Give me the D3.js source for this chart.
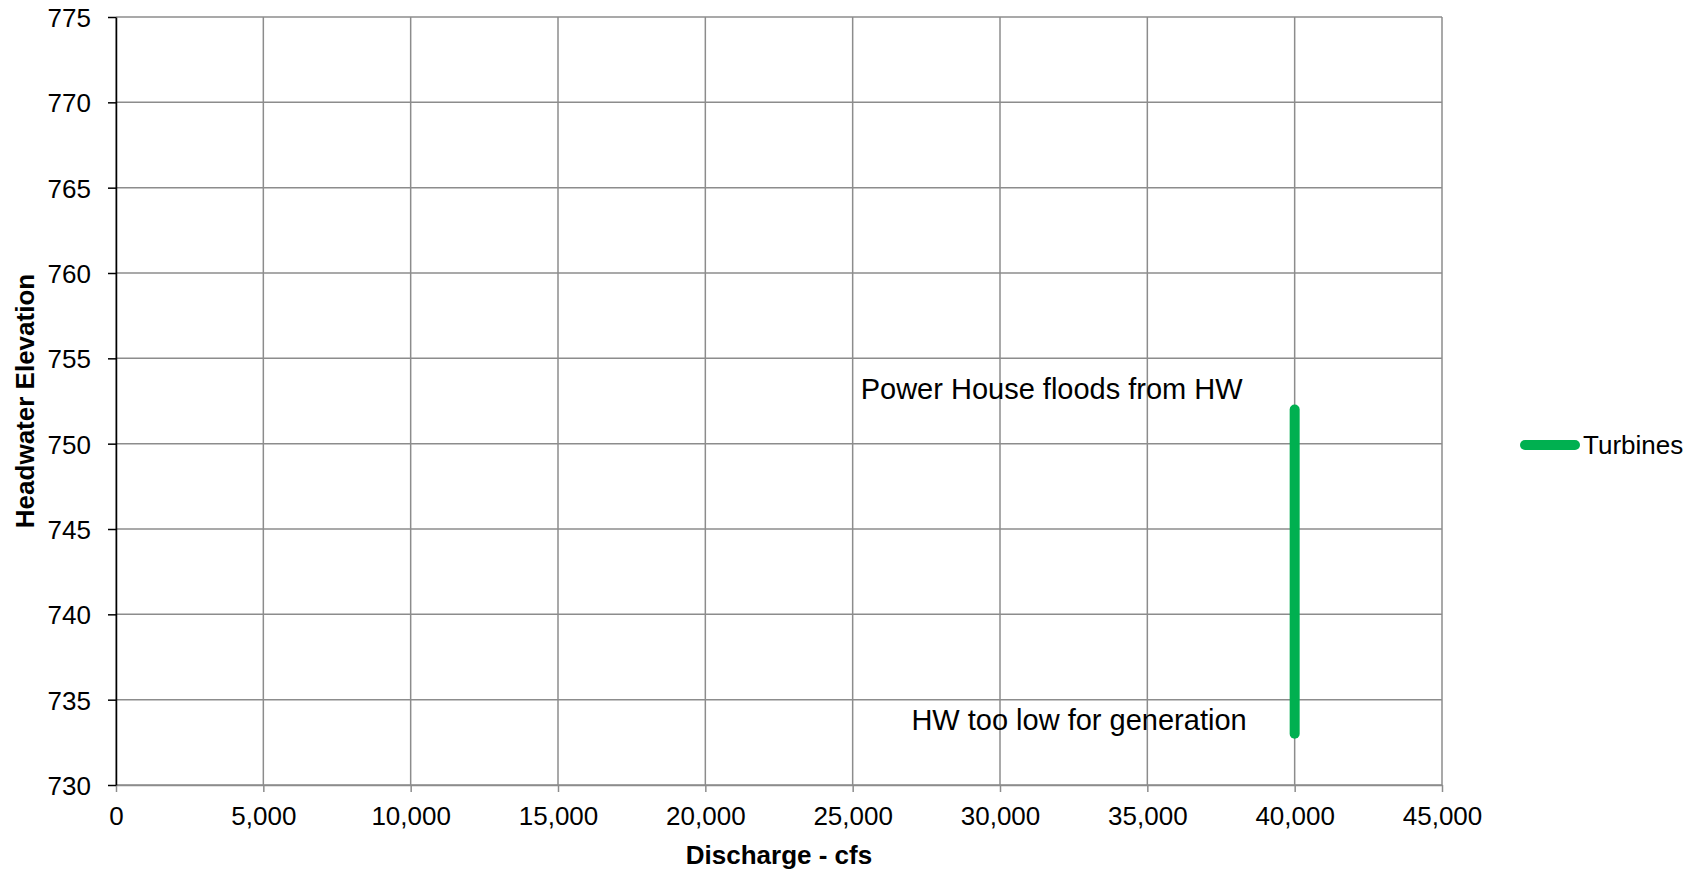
<!DOCTYPE html>
<html>
<head>
<meta charset="utf-8">
<script src="https://cdn.jsdelivr.net/npm/d3@7"></script>
<style>
  html, body { margin: 0; padding: 0; background: #fff; }
  svg { display: block; font-family: "Liberation Sans", Arial, sans-serif; }
</style>
</head>
<body>
<svg id="chart" width="1704" height="872"></svg>
<script>
// Turbine operating range: discharge (cfs) vs headwater elevation (ft)
const seriesName = "Turbines";
const turbineDischarge = [40000, 40000];
const turbineElevation = [733, 752];

const xTicks = [0, 5000, 10000, 15000, 20000, 25000, 30000, 35000, 40000, 45000];
const yTicks = [730, 735, 740, 745, 750, 755, 760, 765, 770, 775];

const annotations = [
  { text: "Power House floods from HW", x: 40000, y: 752 },
  { text: "HW too low for generation", x: 40000, y: 733 }
];

const xTitle = "Discharge - cfs";
const yTitle = "Headwater Elevation";

const svg = d3.select("#chart");
const m = { left: 116, right: 1442, top: 17, bottom: 785 };

const x = d3.scaleLinear().domain([0, 45000]).range([m.left, m.right]);
const y = d3.scaleLinear().domain([730, 775]).range([m.bottom, m.top]);

const gridColor = "#8c8c8c";

// Gridlines
svg.append("g").selectAll("line").data(xTicks).join("line")
  .attr("x1", d => x(d)).attr("x2", d => x(d))
  .attr("y1", m.top).attr("y2", m.bottom)
  .attr("stroke", gridColor).attr("stroke-width", 1.5);
svg.append("g").selectAll("line").data(yTicks).join("line")
  .attr("x1", m.left).attr("x2", m.right)
  .attr("y1", d => y(d)).attr("y2", d => y(d))
  .attr("stroke", gridColor).attr("stroke-width", 1.5);

// X axis
const fmt = d3.format(",");
const xAxis = svg.append("g")
  .attr("transform", `translate(0,${m.bottom})`)
  .call(d3.axisBottom(x).tickValues(xTicks).tickFormat(fmt).tickSize(7).tickSizeOuter(0));
xAxis.select(".domain").attr("stroke", gridColor).attr("stroke-width", 1.5);
xAxis.selectAll(".tick line").attr("stroke", gridColor).attr("stroke-width", 1.5);
xAxis.selectAll(".tick text")
  .attr("y", 40).attr("dy", 0)
  .attr("font-size", 26).attr("fill", "#000")
  .attr("font-family", "Liberation Sans, Arial, sans-serif");

// Y axis
const yAxis = svg.append("g")
  .attr("transform", `translate(${m.left},0)`)
  .call(d3.axisLeft(y).tickValues(yTicks).tickSize(8).tickSizeOuter(0).tickPadding(17));
yAxis.select(".domain").attr("stroke", "#000").attr("stroke-width", 1.5);
yAxis.selectAll(".tick line").attr("stroke", "#000").attr("stroke-width", 1.5);
yAxis.selectAll(".tick text")
  .attr("dy", "0.36em")
  .attr("font-size", 26).attr("fill", "#000")
  .attr("font-family", "Liberation Sans, Arial, sans-serif");

// Turbine range line
const pts = turbineDischarge.map((d, i) => [d, turbineElevation[i]]);
svg.append("path")
  .datum(pts)
  .attr("d", d3.line().x(d => x(d[0])).y(d => y(d[1])))
  .attr("fill", "none")
  .attr("stroke", "#00B050")
  .attr("stroke-width", 10)
  .attr("stroke-linecap", "round");

// Annotations, right-aligned just left of the line ends
// (upper label sits above its end, lower label sits level with its end)
const labelDx = [-52, -48];
const labelDy = [-11, -4];
svg.append("g").selectAll("text").data(annotations).join("text")
  .attr("x", (d, i) => x(d.x) + labelDx[i])
  .attr("y", (d, i) => y(d.y) + labelDy[i])
  .attr("text-anchor", "end")
  .attr("font-size", 29)
  .attr("fill", "#000")
  .text(d => d.text);

// Axis titles
svg.append("text")
  .attr("x", (m.left + m.right) / 2).attr("y", 864)
  .attr("text-anchor", "middle")
  .attr("font-size", 26).attr("font-weight", "bold")
  .text(xTitle);
svg.append("text")
  .attr("transform", `translate(34,${(m.top + m.bottom) / 2}) rotate(-90)`)
  .attr("text-anchor", "middle")
  .attr("font-size", 26).attr("font-weight", "bold")
  .text(yTitle);

// Legend
const lg = svg.append("g").attr("transform", "translate(1525,445)");
lg.append("line")
  .attr("x1", 0).attr("x2", 50).attr("y1", 0).attr("y2", 0)
  .attr("stroke", "#00B050").attr("stroke-width", 10).attr("stroke-linecap", "round");
lg.append("text")
  .attr("x", 58).attr("y", 9)
  .attr("font-size", 26).attr("fill", "#000")
  .text(seriesName);
</script>
</body>
</html>
